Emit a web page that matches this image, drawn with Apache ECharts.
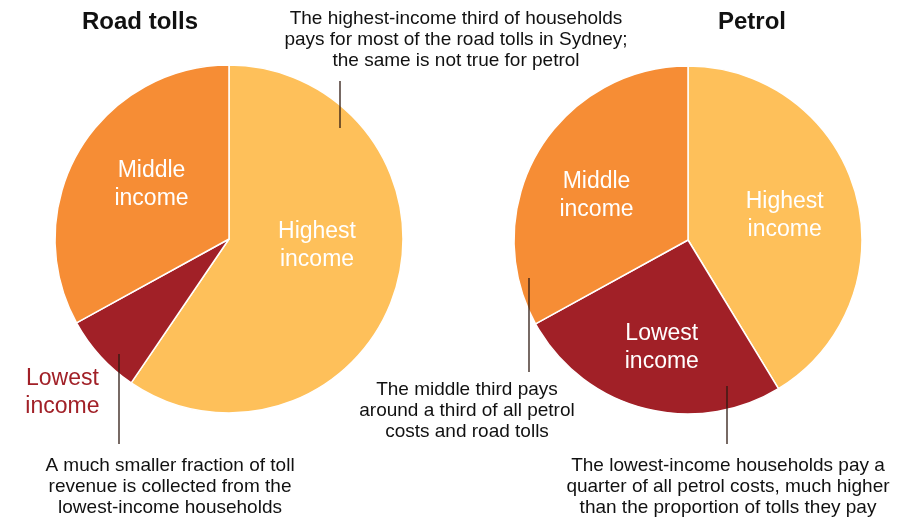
<!DOCTYPE html>
<html>
<head>
<meta charset="utf-8">
<script src="https://cdn.jsdelivr.net/npm/echarts@6/dist/echarts.min.js"></script>
<style>
  html, body { margin: 0; padding: 0; background: #fff; }
  #chart { width: 913px; height: 518px; }
</style>
</head>
<body>
<div id="chart"></div>
<script>
// income groups, in clockwise order from 12 o'clock
var categories = ['Highest income', 'Lowest income', 'Middle income'];
// share of spending paid by each third of households (%)
var tollShares = [59.5, 7.5, 33];
var petrolShares = [41.3, 25.7, 33];
var pieTitles = ['Road tolls', 'Petrol'];

var notes = [
    'The highest-income third of households\npays for most of the road tolls in Sydney;\nthe same is not true for petrol',
    'The middle third pays\naround a third of all petrol\ncosts and road tolls',
    'A much smaller fraction of toll\nrevenue is collected from the\nlowest-income households',
    'The lowest-income households pay a\nquarter of all petrol costs, much higher\nthan the proportion of tolls they pay'
];

var colors = ['#FEC05A', '#A12027', '#F68D35'];
var FONT = '"Liberation Sans", Arial, Helvetica, sans-serif';

var chart = echarts.init(document.getElementById('chart'));

// nudges so the labels sit where the original put them
var tollOffsets = [[2, -20], [-100, 93], [0, -9]];
var petrolOffsets = [[10, 0], [-3, 21], [-14, 1]];

function pieData(values, offsets, outsideIdx) {
    return categories.map(function (name, i) {
        var outside = i === outsideIdx;
        return {
            name: name,
            value: values[i],
            itemStyle: {color: colors[i]},
            label: {
                offset: offsets[i],
                color: outside ? '#A12027' : '#fff'
            }
        };
    });
}

function pieSeries(values, offsets, center, outsideIdx) {
    return {
        type: 'pie',
        center: center,
        radius: 174,
        startAngle: 90,
        clockwise: true,
        silent: true,
        animation: false,
        z: 1,
        itemStyle: {borderColor: '#fff', borderWidth: 1.5},
        label: {
            show: true,
            position: 'inside',
            fontFamily: FONT,
            fontSize: 23,
            lineHeight: 28,
            formatter: function (p) {
                return p.name.replace(' ', '\n');
            }
        },
        labelLine: {show: false},
        data: pieData(values, offsets, outsideIdx)
    };
}

function text(str, x, y, size, weight) {
    return {
        type: 'text',
        x: x,
        y: y,
        z: 100,
        silent: true,
        style: {
            text: str,
            fill: '#111',
            font: (weight || 'normal') + ' ' + size + 'px ' + FONT,
            align: 'center',
            verticalAlign: 'middle',
            lineHeight: 21
        }
    };
}

function vline(x, y1, y2) {
    return {
        type: 'line',
        z: 100,
        silent: true,
        shape: {x1: x, y1: y1, x2: x, y2: y2},
        style: {stroke: '#2e1a12', lineWidth: 1.3}
    };
}

var option = {
    backgroundColor: '#fff',
    series: [
        pieSeries(tollShares, tollOffsets, [229, 239], 1),
        pieSeries(petrolShares, petrolOffsets, [688, 240], -1)
    ],
    graphic: [
        text(pieTitles[0], 140, 22, 24, 'bold'),
        text(pieTitles[1], 752, 22, 24, 'bold'),
        text(notes[0], 456, 40, 19),
        text(notes[1], 467, 411, 19),
        text(notes[2], 170, 487, 19),
        text(notes[3], 728, 487, 19),
        vline(340, 81, 128),
        vline(529, 278, 372),
        vline(119, 354, 444),
        vline(727, 386, 444)
    ]
};

chart.setOption(option);
</script>
</body>
</html>
